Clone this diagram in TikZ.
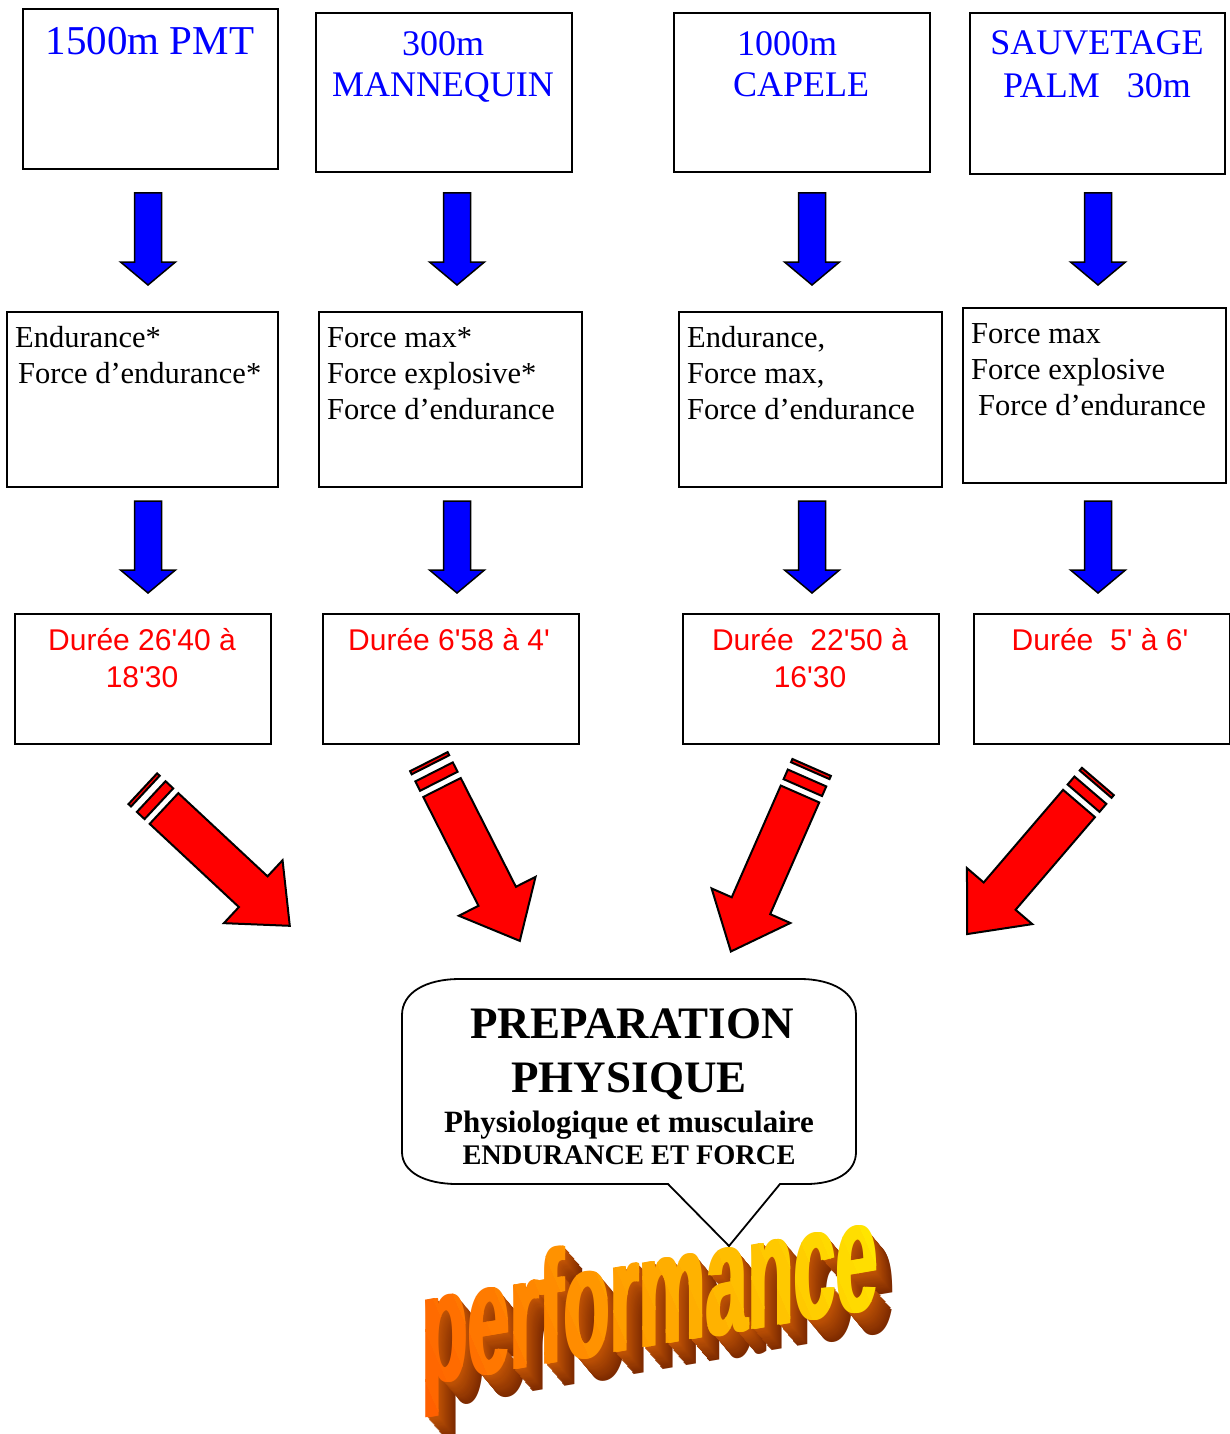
\documentclass[tikz,border=0pt]{standalone}
\usepackage{fontspec}
\newfontfamily\tnr{Liberation Serif}
\newfontfamily\arl{Liberation Sans}
\definecolor{bl}{RGB}{0,0,255}
\definecolor{rd}{RGB}{255,0,0}
\definecolor{pyel}{RGB}{255,232,0}
\definecolor{pred}{RGB}{255,70,0}
\definecolor{brnD}{RGB}{125,42,0}
\definecolor{brnL}{RGB}{195,85,5}
\tikzset{
  box/.style={draw=black, line width=1.8pt, fill=white, inner sep=0pt, anchor=north west},
  ttl/.style={text=bl, font=\tnr\fontsize{36}{36}\selectfont, inner sep=0pt, anchor=base},
  lst/.style={font=\tnr\fontsize{30.5}{30.5}\selectfont, inner sep=0pt, anchor=base west},
  dur/.style={text=rd, font=\arl\fontsize{30}{30}\selectfont, inner sep=0pt, anchor=base},
  cal/.style={inner sep=0pt, anchor=base},
  barrow/.style={fill=bl, draw=black, line width=1.5pt, line join=miter},
  rarrow/.style={fill=rd, draw=black, line width=2pt, line join=miter},
  perf/.style={font=\arl\bfseries\fontsize{160}{160}\selectfont, inner sep=0pt, anchor=base,
               yslant=0.17, xscale=0.47, transform shape},
  pics/blarrow/.style={code={
    \draw[barrow] (-13.5,0) -- (13.5,0) -- (13.5,69) -- (27.5,69) -- (0,92)
      -- (-27.5,69) -- (-13.5,69) -- cycle;}},
  pics/rdarrow/.style={code={
    \draw[rarrow] (0,-21) -- (122,-21) -- (122,-43) -- (172,0) -- (122,43)
      -- (122,21) -- (0,21) -- cycle;
    \draw[rarrow] (-17.5,-21) rectangle (-7,21);
    \draw[rarrow] (-29,-21) rectangle (-25.5,21);}},
}
\begin{document}
\begin{tikzpicture}[x=1pt,y=-1pt]
\path[use as bounding box, fill=white] (0,0) rectangle (1230,1434);

% row 1 boxes
\node[box, minimum width=255pt, minimum height=160pt] (b1) at (22,8) {};
\node[box, minimum width=256pt, minimum height=159pt] (b2) at (315,12) {};
\node[box, minimum width=256pt, minimum height=159pt] (b3) at (673,12) {};
\node[box, minimum width=255pt, minimum height=161pt] (b4) at (969,12) {};
\node[ttl, font=\tnr\fontsize{41}{41}\selectfont] (t1) at (150,55) {1500m PMT};
\node[ttl] (t2a) at (443,56) {300m};
\node[ttl] (t2b) at (443,97) {MANNEQUIN};
\node[ttl] (t3a) at (787,56) {1000m};
\node[ttl] (t3b) at (801,97) {CAPELE};
\node[ttl] (t4a) at (1097,55) {SAUVETAGE};
\node[ttl] (t4b) at (1097,98) {PALM\ \ \ 30m};

% row 2 boxes
\node[box, minimum width=271pt, minimum height=175pt] (c1) at (6,311) {};
\node[box, minimum width=263pt, minimum height=175pt] (c2) at (318,311) {};
\node[box, minimum width=263pt, minimum height=175pt] (c3) at (678,311) {};
\node[box, minimum width=263pt, minimum height=175pt] (c4) at (962,307) {};
\node[lst] (l1a) at (15,347) {Endurance*};
\node[lst] (l1b) at (18,383) {Force d’endurance*};
\node[lst] (l2a) at (327,347) {Force max*};
\node[lst] (l2b) at (327,383) {Force explosive*};
\node[lst] (l2c) at (327,419) {Force d’endurance};
\node[lst] (l3a) at (687,347) {Endurance,};
\node[lst] (l3b) at (687,383) {Force max,};
\node[lst] (l3c) at (687,419) {Force d’endurance};
\node[lst] (l4a) at (971,343) {Force max};
\node[lst] (l4b) at (971,379) {Force explosive};
\node[lst] (l4c) at (978,415) {Force d’endurance};

% row 3 boxes
\node[box, minimum width=256pt, minimum height=130pt] (d1) at (14,613) {};
\node[box, minimum width=256pt, minimum height=130pt] (d2) at (322,613) {};
\node[box, minimum width=256pt, minimum height=130pt] (d3) at (682,613) {};
\node[box, minimum width=256pt, minimum height=130pt] (d4) at (973,613) {};
\node[dur] (r1a) at (142,650) {Durée 26'40 à};
\node[dur] (r1b) at (142,687) {18'30};
\node[dur] (r2a) at (449,650) {Durée 6'58 à 4'};
\node[dur] (r3a) at (810,650) {Durée\ \ 22'50 à};
\node[dur] (r3b) at (810,687) {16'30};
\node[dur] (r4a) at (1100,650) {Durée\ \ 5' à 6'};

% blue arrows
\foreach \cx [count=\n] in {148,457,812,1098} {
  \pic (bu\n) at (\cx,193) {blarrow};
  \pic (bd\n) at (\cx,501) {blarrow};
}

% red arrows
\pic[rotate=-43] (ra1) at (164,808.5) {rdarrow};
\pic[rotate=-63.1] (ra2) at (442,787.5) {rdarrow};
\pic[rotate=-113.7] (ra3) at (800,794) {rdarrow};
\pic[rotate=-130.6] (ra4) at (1079,803.5) {rdarrow};

% callout
\draw[line width=1.8pt, fill=white] (729,1246) -- (668,1184) -- (457,1184)
  .. controls (425,1184) and (402,1172) .. (402,1152) -- (402,1015)
  .. controls (402,993) and (425,979) .. (460,979) -- (800,979)
  .. controls (833,979) and (856,993) .. (856,1015) -- (856,1152)
  .. controls (856,1172) and (836,1184) .. (806,1184) -- (780,1184) -- cycle;
\node[cal, font=\tnr\bfseries\fontsize{45}{45}\selectfont] (p1) at (632,1038) {PREPARATION};
\node[cal, font=\tnr\bfseries\fontsize{45}{45}\selectfont] (p2) at (629,1092) {PHYSIQUE};
\node[cal, font=\tnr\bfseries\fontsize{31}{31}\selectfont] (p3) at (629,1132) {Physiologique et musculaire};
\node[cal, font=\tnr\bfseries\fontsize{28.4}{28.4}\selectfont] (p4) at (629,1164) {ENDURANCE ET FORCE};

% performance word art: extrusion
\foreach \k in {18,17,...,1} {
  \pgfmathtruncatemacro{\pp}{100*\k/18}
  \begin{scope}[shift={(650+\k,1347+1.2*\k)}]
    \node[perf, text=brnD!\pp!brnL] (ex\k) at (0,0) {performance};
  \end{scope}
}
% face with diagonal gradient bands (slightly thickened)
\foreach \i in {0,...,26} {
  \pgfmathtruncatemacro{\pp}{min(100,max(0,15+0.85*(\i*20-10)/5))}
  \pgfmathsetmacro{\xa}{400+20*\i}
  \pgfmathsetmacro{\xb}{421+20*\i}
  \begin{scope}
    \clip[rotate around={23.5:(420,1420)}] (\xa,1000) rectangle (\xb,1800);
    \foreach \dx [count=\m] in {-1.5,0,1.5} {
      \begin{scope}[shift={(650+\dx,1347)}]
        \node[perf, text=pyel!\pp!pred] (pf\i-\m) at (0,0) {performance};
      \end{scope}
    }
  \end{scope}
}
\end{tikzpicture}
\end{document}
